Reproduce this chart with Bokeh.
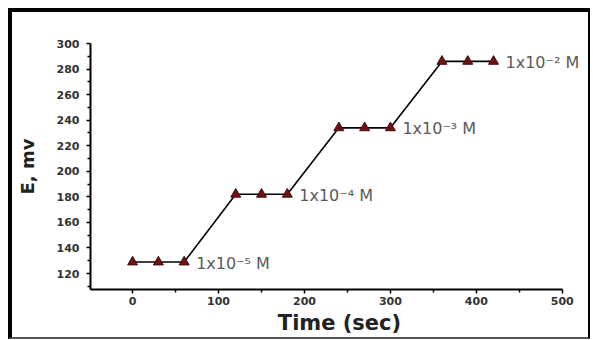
from bokeh.plotting import figure
from bokeh.models import Range1d, LabelSet, ColumnDataSource, FixedTicker
from bokeh.core.properties import value
from bokeh.embed import file_html
from bokeh.resources import INLINE

# data
time_sec = [0, 30, 60, 120, 150, 180, 240, 270, 300, 360, 390, 420]
emf_mv = [129, 129, 129, 182, 182, 182, 234, 234, 234, 286, 286, 286]

conc_labels = ["1x10\u207b\u2075 M", "1x10\u207b\u2074 M", "1x10\u207b\u00b3 M", "1x10\u207b\u00b2 M"]
conc_x = [60, 180, 300, 420]
conc_y = [129, 182, 234, 286]

x_ticks = [0, 100, 200, 300, 400, 500]
y_ticks = [120, 140, 160, 180, 200, 220, 240, 260, 280, 300]

p = figure(width=582, height=331, output_backend="svg", toolbar_location=None,
           x_range=Range1d(-49, 530.5), y_range=Range1d(107.5, 300),
           min_border_left=78, min_border_right=6, min_border_top=31, min_border_bottom=54)
p.styles = {"margin-left": "8px", "margin-top": "8px",
            "border-left": "4px solid black", "border-top": "4px solid black",
            "border-right": "2px solid black", "border-bottom": "2px solid #555555"}

p.outline_line_color = None
p.xgrid.visible = False
p.ygrid.visible = False
p.background_fill_color = "white"
p.border_fill_color = "white"

p.line(time_sec, emf_mv, line_color="black", line_width=1.6)
p.scatter(time_sec, emf_mv, marker="triangle", size=10,
          fill_color="#6e1212", line_color="#4a0a0a", line_width=1)

src = ColumnDataSource(dict(x=conc_x, y=conc_y, t=conc_labels))
p.add_layout(LabelSet(x="x", y="y", text="t", source=src, x_offset=12, y_offset=-1,
                      text_font=value("DejaVu Sans"), text_font_size="16px",
                      text_color="#5a5a5a", text_baseline="middle", text_align="left"))

for ax, ticks in ((p.xaxis[0], x_ticks), (p.yaxis[0], y_ticks)):
    step = ticks[1] - ticks[0]
    ax.ticker = FixedTicker(ticks=ticks, minor_ticks=[t - step / 2 for t in ticks])
    ax.axis_line_width = 2
    ax.axis_line_color = "black"
    ax.major_tick_in = 0
    ax.major_tick_out = 4
    ax.major_tick_line_width = 1.5
    ax.minor_tick_in = 0
    ax.minor_tick_out = 3
    ax.minor_tick_line_width = 1.5
    ax.major_label_text_font = "DejaVu Sans"
    ax.major_label_text_font_style = "bold"
    ax.major_label_text_font_size = "11px"
    ax.major_label_text_color = "#333333"
    ax.axis_label_text_font = "DejaVu Sans"
    ax.axis_label_text_font_style = "bold"
    ax.axis_label_text_color = "#222222"

p.xaxis[0].bounds = (-49, 500.5)
p.yaxis[0].major_label_standoff = 7
p.xaxis[0].major_label_standoff = 3

p.yaxis[0].axis_label = "E, mv"
p.yaxis[0].axis_label_text_font_size = "18px"
p.yaxis[0].axis_label_standoff = 16
p.xaxis[0].axis_label = "Time (sec)"
p.xaxis[0].axis_label_text_font_size = "21px"
p.xaxis[0].axis_label_standoff = 3

open("out.html", "w").write(file_html(p, INLINE))
